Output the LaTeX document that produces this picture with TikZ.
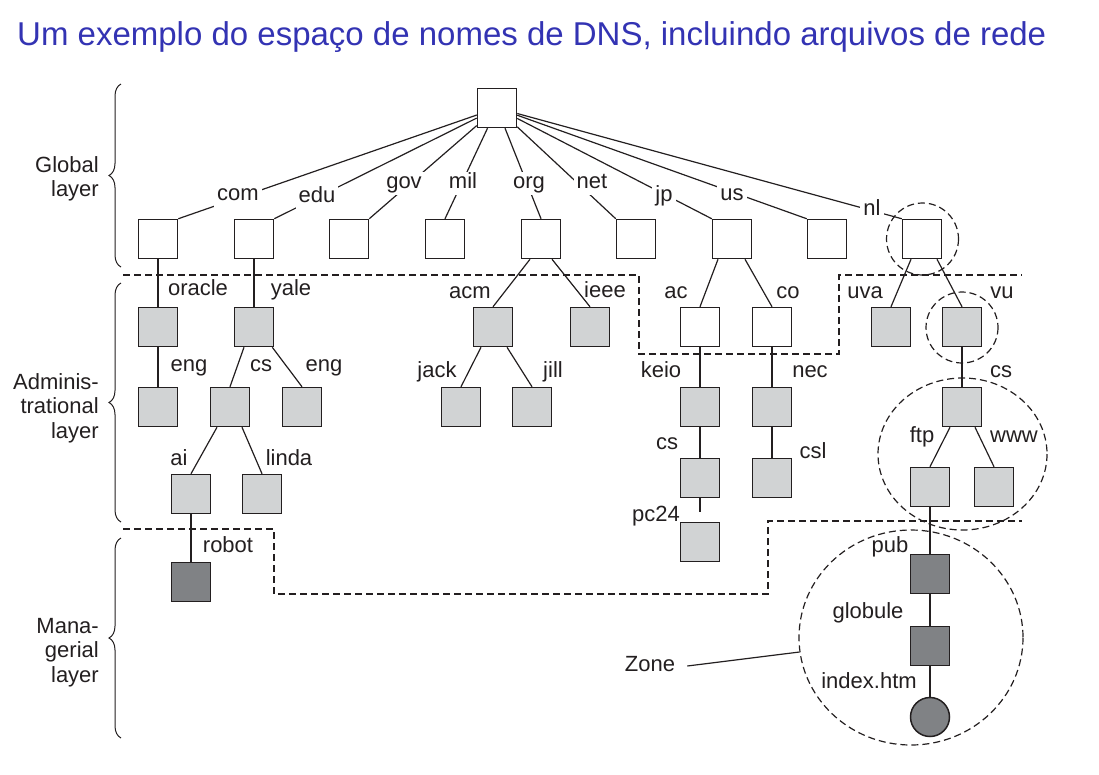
\documentclass[tikz,border=0pt]{standalone}
\usepackage{fontspec}
\setmainfont{Liberation Sans}
\usetikzlibrary{decorations.pathreplacing}
\definecolor{ink}{RGB}{35,31,32}
\definecolor{lgray}{RGB}{209,211,212}
\definecolor{dgray}{RGB}{128,130,133}
\definecolor{titleblue}{RGB}{51,51,179}
\begin{document}
\begin{tikzpicture}[x=1pt,y=-1pt,
  bx/.style={draw=ink,line width=1.5pt,minimum size=39pt,inner sep=0pt},
  wbx/.style={bx,fill=white},
  gbx/.style={bx,fill=lgray},
  dbx/.style={bx,fill=dgray},
  conn/.style={draw=ink,line width=1.2pt},
  lab/.style={font=\fontsize{22}{24}\selectfont,text=ink,inner sep=0pt,text height=16pt,text depth=5pt},
  tlab/.style={lab,fill=white,inner xsep=3pt,inner ysep=1pt},
  llab/.style={font=\fontsize{22}{24.5}\selectfont,text=ink,inner sep=0pt,align=right,anchor=north east},
  zonel/.style={draw=ink,line width=1.2pt,dash pattern=on 7pt off 4pt},
  brc/.style={draw=ink,line width=1pt,decorate,decoration={brace,amplitude=12pt}},
]
\useasboundingbox (0,0) rectangle (1099,774);

% title
\node[anchor=base west,font=\fontsize{33}{36}\selectfont,text=titleblue,inner sep=0pt] (title) at (17,45)
  {Um exemplo do espaço de nomes de DNS, incluindo arquivos de rede};

% layer braces and labels
\draw[brc] (121,267) -- (121,84);
\draw[brc] (121,522) -- (121,283);
\draw[brc] (121,738) -- (121,538);
\node[llab] (lglobal) at (99,156) {Global\\layer};
\node[llab] (ladmin) at (99,373) {Adminis-\\trational\\layer};
\node[llab] (lmanag) at (99,618) {Mana-\\gerial\\layer};

% nodes
\node[wbx] (root) at (497,108) {};
\foreach \n/\x in {com/158,edu/254,gov/349,mil/445,org/541,net/636,jp/732,us/827,nl/922}
  \node[wbx] (\n) at (\x,239) {};

\node[gbx] (oracle) at (158,327) {};
\node[gbx] (yale) at (254,327) {};
\node[gbx] (oeng) at (158,407) {};
\node[gbx] (ycs) at (230,407) {};
\node[gbx] (yeng) at (302,407) {};
\node[gbx] (ai) at (191,494) {};
\node[gbx] (linda) at (262,494) {};
\node[dbx] (robot) at (191,582) {};

\node[gbx] (acm) at (493,327) {};
\node[gbx] (ieee) at (590,327) {};
\node[gbx] (jack) at (461,407) {};
\node[gbx] (jill) at (532,407) {};

\node[wbx] (ac) at (700,327) {};
\node[wbx] (co) at (772,327) {};
\node[gbx] (keio) at (700,407) {};
\node[gbx] (nec) at (772,407) {};
\node[gbx] (kcs) at (700,478) {};
\node[gbx] (csl) at (772,478) {};
\node[gbx] (pc24) at (700,542) {};

\node[gbx] (uva) at (891,327) {};
\node[gbx] (vu) at (962,327) {};
\node[gbx] (vcs) at (962,407) {};
\node[gbx] (ftp) at (930,487) {};
\node[gbx] (www) at (994,487) {};
\node[dbx] (pub) at (930,574) {};
\node[dbx] (globule) at (930,646) {};
\node[dbx,circle] (index) at (930,717) {};

% connectors
\draw[conn] (root) -- (com.north east);
\draw[conn] (root) -- (edu.north east);
\draw[conn] (root) -- (gov.north east);
\draw[conn] (root) -- (mil.north);
\draw[conn] (root) -- (org.north);
\draw[conn] (root) -- (net.north west);
\draw[conn] (root) -- (jp.north west);
\draw[conn] (root) -- (us.north west);
\draw[conn] (root) -- (nl.north west);

\draw[conn] (com) -- (oracle);
\draw[conn] (edu) -- (yale);
\draw[conn] (oracle) -- (oeng);
\draw[conn] ([xshift=-10pt]yale.south) -- (ycs.north);
\draw[conn] ([xshift=-2pt]yale.south east) -- (yeng.north);
\draw[conn] ([xshift=-13pt]ycs.south) -- (ai.north);
\draw[conn] ([xshift=12pt]ycs.south) -- (linda.north);
\draw[conn] (ai) -- (robot);

\draw[conn] ([xshift=-11pt]org.south) -- (acm.north);
\draw[conn] ([xshift=11pt]org.south) -- (ieee.north);
\draw[conn] ([xshift=-12pt]acm.south) -- (jack.north);
\draw[conn] ([xshift=14pt]acm.south) -- (jill.north);

\draw[conn] ([xshift=-14pt]jp.south) -- (ac.north);
\draw[conn] ([xshift=13pt]jp.south) -- (co.north);
\draw[conn] (ac) -- (keio);
\draw[conn] (keio) -- (kcs);
\draw[conn,shorten >=10pt] (kcs) -- (pc24);
\draw[conn] (co) -- (nec);
\draw[conn] (nec) -- (csl);

\draw[conn] ([xshift=-11pt]nl.south) -- (uva.north);
\draw[conn] ([xshift=15pt]nl.south) -- (vu.north);
\draw[conn] (vu) -- (vcs);
\draw[conn] ([xshift=-12pt]vcs.south) -- (ftp.north);
\draw[conn] ([xshift=13pt]vcs.south) -- (www.north);
\draw[conn] (ftp) -- (pub);
\draw[conn] (pub) -- (globule);
\draw[conn] (globule) -- (index);

% top-level labels (on the lines)
\node[tlab] (lcom) at (238,195) {com};
\node[tlab] (ledu) at (317,197) {edu};
\node[tlab] (lgov) at (404,183) {gov};
\node[tlab] (lmil) at (463,183) {mil};
\node[tlab] (lorg) at (529,183) {org};
\node[tlab] (lnet) at (592,183) {net};
\node[tlab] (ljp) at (664,196) {jp};
\node[tlab] (lus) at (732,195) {us};
\node[tlab] (lnl) at (872,210) {nl};

% other labels
\node[lab] (loracle) at (198,290) {oracle};
\node[lab] (lyale) at (291,290) {yale};
\node[lab] (loeng) at (189,366) {eng};
\node[lab] (lycs) at (261,366) {cs};
\node[lab] (lyeng) at (324,366) {eng};
\node[lab] (lai) at (179,460) {ai};
\node[lab] (llinda) at (289,460) {linda};
\node[lab] (lrobot) at (228,547) {robot};
\node[lab] (lacm) at (470,293) {acm};
\node[lab] (lieee) at (605,292) {ieee};
\node[lab] (ljack) at (437,372) {jack};
\node[lab] (ljill) at (553,372) {jill};
\node[lab] (lac) at (676,293) {ac};
\node[lab] (lco) at (788,293) {co};
\node[lab] (luva) at (865,293) {uva};
\node[lab] (lvu) at (1002,293) {vu};
\node[lab] (lkeio) at (661,372) {keio};
\node[lab] (lnec) at (810,372) {nec};
\node[lab] (lkcs) at (667,444) {cs};
\node[lab] (lcsl) at (813,453) {csl};
\node[lab] (lpc) at (656,516) {pc24};
\node[lab] (lvcs) at (1001,372) {cs};
\node[lab] (lftp) at (922,437) {ftp};
\node[lab] (lwww) at (1014,437) {www};
\node[lab] (lpub) at (890,547) {pub};
\node[lab] (lglob) at (868,613) {globule};
\node[lab] (lindex) at (869,683) {index.htm};
\node[lab] (lzone) at (650,666) {Zone};

% layer boundaries
\draw[zonel] (123,275) -- (639,275) -- (639,354) -- (839,354) -- (839,275) -- (1022,275);
\draw[zonel] (123,529) -- (274,529) -- (274,594) -- (768,594) -- (768,521) -- (1022,521);

% zones
\draw[zonel] (922.5,239) ellipse [x radius=36, y radius=36];
\draw[zonel] (962,327.5) ellipse [x radius=36, y radius=35.5];
\draw[zonel] (962.5,454) ellipse [x radius=84.5, y radius=76];
\draw[zonel] (911,637.5) ellipse [x radius=112, y radius=107.5];
\coordinate (zonept) at (799.5,652);
\draw[conn] ([xshift=12pt]lzone.east) -- (zonept);
\end{tikzpicture}
\end{document}
